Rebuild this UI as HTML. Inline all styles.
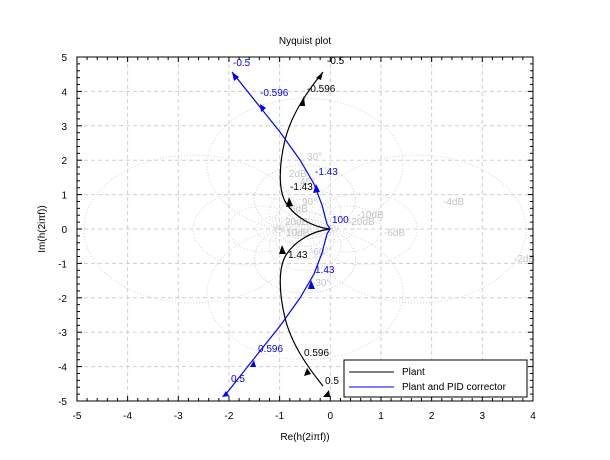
<!DOCTYPE html>
<html><head><meta charset="utf-8"><style>
body{margin:0;background:#fff}
svg{font-family:"Liberation Sans",sans-serif;display:block}
</style></head><body>
<svg id="s" width="610" height="460" xmlns="http://www.w3.org/2000/svg">
<rect width="610" height="460" fill="#fff"/>
<defs><clipPath id="c"><rect x="77" y="57" width="456" height="344"/></clipPath></defs>
<g id="grid" stroke="#d0d0d0" stroke-dasharray="4,3" stroke-width="1"></g>
<g id="hall" clip-path="url(#c)" fill="none" stroke="#d4d4d4" stroke-dasharray="1,2" stroke-width="1"></g>
<g font-size="10" fill="#c4c4c4">
<text x="307" y="160">30°</text><text x="289" y="177">2dB</text><text x="300" y="185">45°</text>
<text x="290" y="212">6dB</text><text x="302" y="205">90°</text><text x="285" y="225">20dB</text>
<text x="286" y="236">10dB</text><text x="357" y="218">-10dB</text><text x="348" y="225">-20dB</text>
<text x="384" y="236">-6dB</text><text x="443" y="205">-4dB</text><text x="514" y="262">-2dB</text>
<text x="310" y="255">-60°</text><text x="312" y="286">-30°</text>
</g>
<rect x="77" y="57" width="456" height="344" fill="none" stroke="#000"/>
<g id="ticks" stroke="#000"></g>
<g id="labels" font-size="10" fill="#000"></g>
<text x="305" y="44" font-size="10" text-anchor="middle">Nyquist plot</text>
<text x="305" y="440" font-size="10" text-anchor="middle">Re(h(2iπf))</text>
<text x="45" y="229" font-size="10" text-anchor="middle" transform="rotate(-90 45 229)">Im(h(2iπf))</text>
<g fill="none" stroke-width="1.2">
<path stroke="#000" d="M323,72 C310,88 292,112 285,140 C279,165 278,190 286,203 C295,217 312,227 330,229 C312,231 295,241 286,255 C278,268 279,293 285,318 C292,346 310,370 323,386"/>
<path stroke="#00f" d="M232,72 L260,107 L280,132 L300,160 L314,184 L322,205 L327,224 L330,229 L327,234 L322,253 L314,274 L300,298 L280,326 L260,351 L226,394"/>
</g>
<g>
<polygon points="323,72 316,78 321,80" fill="#000"/>
<polygon points="304,96 299,106 305,106" fill="#000"/>
<polygon points="289,197 286,207 293,206" fill="#000"/>
<polygon points="282,385 279,394 286,394" fill="#000" transform="translate(0,-140)"/>
<polygon points="307,368 304,376 311,374" fill="#000"/>
<polygon points="329,390 323,397 330,397" fill="#000"/>
<polygon points="232,72 234,81 239,77" fill="#00f"/>
<polygon points="260,104 261,112 266,108" fill="#00f"/>
<polygon points="316,184 313,193 320,192" fill="#00f"/>
<polygon points="311,280 308,289 315,289" fill="#00f"/>
<polygon points="254,360 250,367 256,367" fill="#00f"/>
<polygon points="226,391 222,397 229,396" fill="#00f"/>
</g>
<g font-size="10">
<text x="327" y="64" fill="#000">-0.5</text><text x="307" y="92" fill="#000">-0.596</text>
<text x="290" y="190" fill="#000">-1.43</text><text x="288" y="258" fill="#000">1.43</text>
<text x="304" y="356" fill="#000">0.596</text><text x="325" y="384" fill="#000">0.5</text>
<text x="233" y="66" fill="#00f">-0.5</text><text x="260" y="96" fill="#00f">-0.596</text>
<text x="315" y="175" fill="#00f">-1.43</text><text x="332" y="223" fill="#00f">100</text>
<text x="315" y="273" fill="#00f">1.43</text><text x="258" y="352" fill="#00f">0.596</text>
<text x="231" y="382" fill="#00f">0.5</text>
</g>
<rect x="344" y="360" width="183" height="37" fill="#fff" stroke="#000"/>
<line x1="349" y1="372" x2="394" y2="372" stroke="#000"/>
<line x1="349" y1="387" x2="394" y2="387" stroke="#00f"/>
<text x="402" y="375" font-size="10">Plant</text>
<text x="402" y="390" font-size="10">Plant and PID corrector</text>
<script>
var X=v=>330.3+50.67*v,Y=v=>229-34.4*v,ns="http://www.w3.org/2000/svg";
function el(p,t,a){var e=document.createElementNS(ns,t);for(var k in a)e.setAttribute(k,a[k]);document.getElementById(p).appendChild(e);return e;}
for(var i=-4;i<=3;i++)el("grid","line",{x1:X(i),x2:X(i),y1:57,y2:401});
for(var j=-4;j<=4;j++)el("grid","line",{x1:77,x2:533,y1:Y(j),y2:Y(j)});
for(var i=-5;i<=4;i++){el("ticks","line",{x1:X(i),x2:X(i),y1:401,y2:396});el("ticks","line",{x1:X(i),x2:X(i),y1:57,y2:62});
 var t=el("labels","text",{x:X(i),y:419,"text-anchor":"middle"});t.textContent=i;
 if(i<4)for(var m=1;m<5;m++){var xx=X(i+m/5);el("ticks","line",{x1:xx,x2:xx,y1:401,y2:398});el("ticks","line",{x1:xx,x2:xx,y1:57,y2:60});}}
for(var j=-5;j<=5;j++){el("ticks","line",{x1:77,x2:82,y1:Y(j),y2:Y(j)});el("ticks","line",{x1:533,x2:528,y1:Y(j),y2:Y(j)});
 var t=el("labels","text",{x:67,y:Y(j)+4,"text-anchor":"end"});t.textContent=j;
 if(j<5)for(var m=1;m<5;m++){var yy=Y(j+m/5);el("ticks","line",{x1:77,x2:80,y1:yy,y2:yy});el("ticks","line",{x1:533,x2:530,y1:yy,y2:yy});}}
[-20,-10,-6,-4,-2,2,4,6,10,20].forEach(function(d){var M=Math.pow(10,d/20),M2=M*M,c=-M2/(M2-1),r=M/Math.abs(M2-1);
 el("hall","ellipse",{cx:X(c),cy:Y(0),rx:r*50.67,ry:r*34.4});});
[15,30,45,60,90,120,150].forEach(function(p){var c=1/(2*Math.tan(p*Math.PI/180)),r=Math.sqrt(.25+c*c);
 [c,-c].forEach(function(cc){el("hall","ellipse",{cx:X(-0.5),cy:Y(cc),rx:r*50.67,ry:r*34.4});});});
</script>
</svg>
</body></html>
